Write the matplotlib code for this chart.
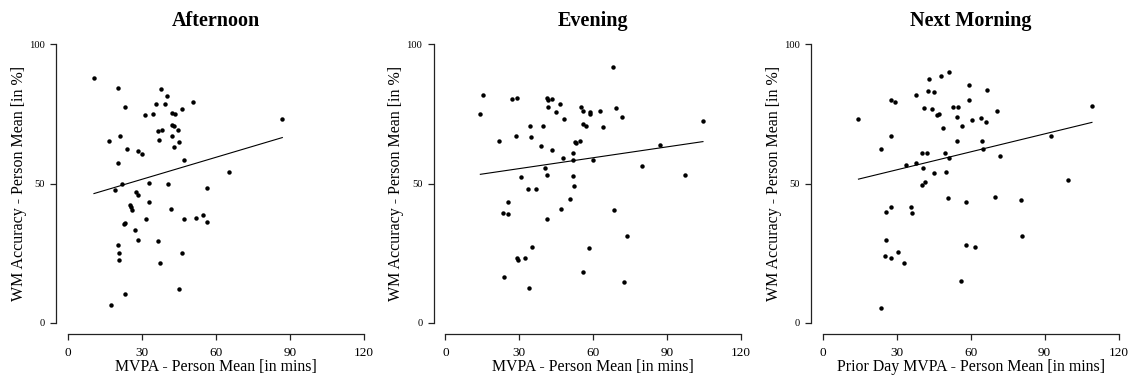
import matplotlib
matplotlib.use("Agg")
import matplotlib.pyplot as plt
import numpy as np

plt.rcParams['font.family'] = ['Liberation Serif', 'DejaVu Serif']

titles = ["Afternoon", "Evening", "Next Morning"]
xlabels = ["MVPA - Person Mean [in mins]", "MVPA - Person Mean [in mins]",
           "Prior Day MVPA - Person Mean [in mins]"]
ylabel = "WM Accuracy - Person Mean [in %]"
xticks = [0, 30, 60, 90, 120]
yticks = [0, 50, 100]

afternoon_x = [10.6, 20.5, 37.8, 40.2, 50.7, 35.6, 39.3, 23.2, 46.2, 31.4, 34.5, 42.1, 43.3, 87.0,
               42.4, 43.1, 36.7, 38.2, 44.6, 16.8, 21.3, 42.4, 36.8, 45.0, 42.9, 24.0, 28.6, 29.9,
               47.3, 20.2, 65.3, 32.9, 40.5, 22.1, 19.1, 56.5, 27.6, 28.4, 32.8, 25.2, 25.6, 26.1,
               41.7, 54.7, 52.0, 47.3, 31.6, 56.3, 23.3, 22.9, 27.4, 20.2, 36.6, 28.6, 20.6, 46.3,
               20.9, 37.5, 45.1, 23.2, 17.6]
afternoon_y = [87.7, 84.4, 83.9, 81.5, 79.3, 78.5, 78.7, 77.6, 76.6, 74.4, 75.0, 75.2, 75.0, 73.0,
               71.1, 70.8, 68.9, 69.1, 69.1, 65.4, 67.2, 67.2, 65.7, 64.8, 63.2, 62.2, 61.6, 60.5,
               58.4, 57.3, 54.3, 50.2, 49.9, 49.9, 47.5, 48.3, 47.1, 45.9, 43.2, 42.3, 41.6, 40.6,
               41.0, 38.8, 37.8, 37.2, 37.2, 36.1, 36.0, 35.4, 33.4, 27.8, 29.2, 29.7, 25.0, 25.0,
               22.4, 21.5, 12.0, 10.3, 6.5]

evening_x = [68.0, 15.1, 14.2, 27.0, 29.2, 41.1, 41.8, 43.1, 46.6, 41.8, 55.0, 69.3, 44.9, 55.8,
             62.6, 58.8, 58.6, 71.8, 48.1, 104.5, 55.7, 56.9, 34.3, 39.6, 63.9, 28.8, 34.6, 21.9,
             52.6, 53.2, 54.6, 38.9, 86.9, 43.2, 51.8, 47.8, 51.9, 60.0, 79.9, 40.5, 41.1, 51.8,
             30.5, 97.2, 52.0, 33.4, 36.9, 50.7, 25.3, 23.4, 25.5, 47.0, 68.5, 41.4, 73.5, 35.3,
             58.2, 29.1, 29.5, 32.2, 23.6, 55.8, 72.4, 33.8]
evening_y = [91.7, 81.9, 74.9, 80.3, 80.5, 80.5, 80.1, 80.3, 78.7, 77.5, 77.3, 77.0, 75.7, 76.0,
             76.0, 75.5, 74.8, 74.0, 73.3, 72.5, 71.4, 70.6, 70.8, 70.5, 70.2, 67.0, 66.7, 65.4,
             65.0, 64.4, 65.4, 63.4, 63.8, 62.1, 61.0, 59.2, 58.4, 58.4, 56.2, 55.6, 52.9, 52.6,
             52.4, 53.2, 49.2, 48.1, 48.1, 44.3, 43.2, 39.5, 38.9, 40.9, 40.4, 37.4, 31.2, 27.2,
             26.7, 23.3, 22.7, 23.1, 16.5, 18.2, 14.5, 12.6]

morning_x = [51.1, 48.1, 43.2, 59.2, 66.8, 42.7, 45.0, 38.0, 27.8, 29.2, 59.5, 109.2, 52.7, 54.9,
             41.2, 44.5, 70.7, 47.0, 46.4, 54.6, 64.3, 14.5, 60.5, 66.2, 56.4, 48.6, 27.7, 92.7,
             54.6, 64.6, 23.5, 65.0, 40.1, 42.3, 49.5, 71.9, 51.1, 33.6, 38.0, 40.8, 45.0, 49.9,
             41.4, 40.1, 99.6, 50.8, 69.9, 58.2, 80.4, 27.7, 35.9, 25.5, 36.2, 25.5, 80.7, 58.0,
             61.6, 30.4, 25.1, 27.7, 32.8, 56.1, 23.6]
morning_y = [90.1, 88.5, 87.6, 85.3, 83.4, 83.1, 82.8, 81.7, 79.9, 79.4, 79.9, 77.9, 77.6, 77.3,
             77.0, 76.6, 76.1, 74.8, 74.4, 74.0, 73.6, 73.3, 72.7, 72.0, 70.8, 70.0, 67.2, 67.2,
             65.1, 65.1, 62.4, 62.4, 61.1, 61.1, 60.8, 59.7, 59.0, 56.7, 57.2, 55.6, 53.9, 54.3,
             50.7, 49.6, 51.3, 44.9, 45.1, 43.4, 44.0, 41.5, 41.5, 39.6, 39.4, 29.9, 31.0, 27.8,
             27.2, 25.6, 23.9, 23.3, 21.5, 15.0, 5.5]

# fitted regression lines (intercept, slope)
fit_intercepts = [43.6, 51.45, 48.45]
fit_slopes = [0.263, 0.130, 0.215]

xs = [afternoon_x, evening_x, morning_x]
ys = [afternoon_y, evening_y, morning_y]

W, H = 1129, 378
fig = plt.figure(figsize=(W / 100, H / 100), dpi=100)
lefts = [56, 433.5, 810.9]
for i in range(3):
    ax = fig.add_axes([lefts[i] / W, 44 / H, 319.5 / W, 301 / H])
    x = np.array(xs[i]); y = np.array(ys[i])
    ax.plot(x, y, 'o', color='black', ms=3.2, mec='none')
    lx = np.array([x.min(), x.max()])
    ax.plot(lx, fit_intercepts[i] + fit_slopes[i] * lx, color='black', lw=0.8)
    ax.set_xlim(-4.8, 124.8)
    ax.set_ylim(-4, 104)
    ax.spines['top'].set_visible(False)
    ax.spines['right'].set_visible(False)
    ax.spines['left'].set_bounds(0, 100)
    ax.spines['bottom'].set_bounds(0, 120)
    for s in ['left', 'bottom']:
        ax.spines[s].set_linewidth(0.9)
        ax.spines[s].set_color('#222222')
    ax.set_xticks(xticks)
    ax.set_yticks(yticks)
    ax.tick_params(axis='both', length=4, width=0.9, color='#222222')
    ax.tick_params(axis='x', labelsize=9.5, pad=5)
    ax.tick_params(axis='y', labelsize=7.6, pad=4)
    ax.set_title(titles[i], fontsize=14.5, fontweight='bold', pad=5)
    ax.set_xlabel(xlabels[i], fontsize=11.4, labelpad=0.5)
    ax.set_ylabel(ylabel, fontsize=11.5, labelpad=1.5)

fig.savefig("out.png", dpi=100)
